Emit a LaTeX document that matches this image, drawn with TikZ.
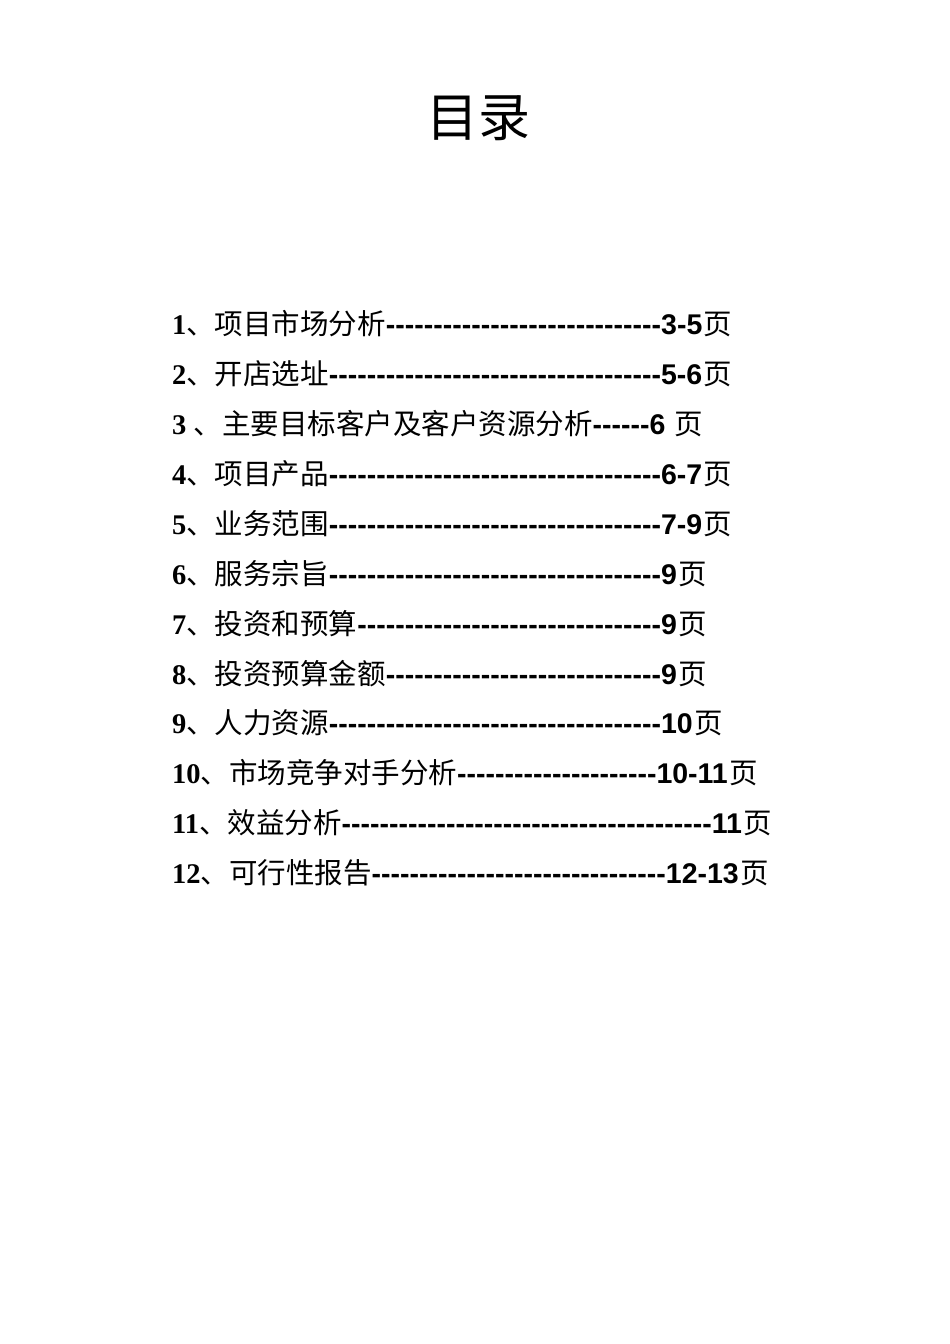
\documentclass[tikz,border=0pt]{standalone}
\usepackage{fontspec}
\setmainfont{Liberation Serif}
\newfontfamily\cjk{Noto Sans CJK SC}
\newfontfamily\hv{Liberation Sans}
\newcommand\myentry[5]{\node[entry] (#1) at (172,#2) {\textbf{#3}{\cjk 、#4}{\hv\bfseries #5}\hspace{1.5pt}{\cjk 页}};}
\begin{document}
\begin{tikzpicture}[x=1pt,y=-1pt,entry/.style={anchor=base west,inner sep=0pt,font=\fontsize{28.5}{30}\selectfont}]
\useasboundingbox (0,0) rectangle (950,1344);
\node[inner sep=0pt,font=\cjk\fontsize{52}{56}\selectfont] (title) at (478,118) {目录};
\myentry{a}{334}{1}{项目市场分析}{-----------------------------3-5}
\myentry{b}{384}{2}{开店选址}{-----------------------------------5-6}
\myentry{c}{434}{3 }{主要目标客户及客户资源分析}{------6\hspace{8pt}}
\myentry{d}{484}{4}{项目产品}{-----------------------------------6-7}
\myentry{e}{534}{5}{业务范围}{-----------------------------------7-9}
\myentry{f}{584}{6}{服务宗旨}{-----------------------------------9}
\myentry{g}{634}{7}{投资和预算}{--------------------------------9}
\myentry{h}{684}{8}{投资预算金额}{-----------------------------9}
\myentry{i}{733}{9}{人力资源}{-----------------------------------10}
\myentry{j}{783}{10}{市场竞争对手分析}{---------------------10-11}
\myentry{k}{833}{11}{效益分析}{---------------------------------------11}
\myentry{l}{883}{12}{可行性报告}{-------------------------------12-13}
\end{tikzpicture}
\end{document}
